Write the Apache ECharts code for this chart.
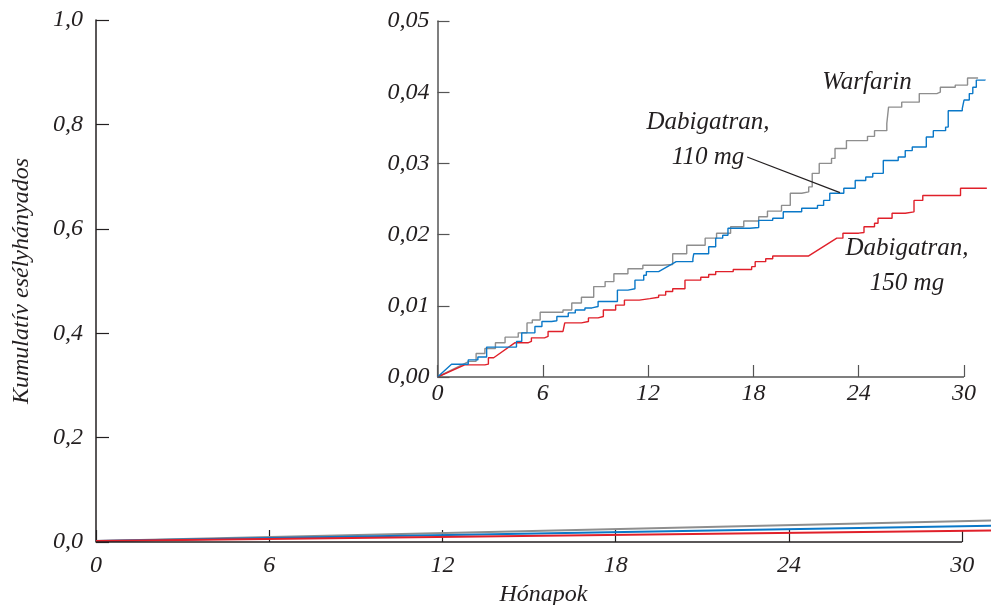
<!DOCTYPE html>
<html>
<head>
<meta charset="utf-8">
<script src="https://cdn.jsdelivr.net/npm/echarts@6/dist/echarts.min.js"></script>
<style>
  html, body { margin: 0; padding: 0; background: #fff; }
  #chart { width: 991px; height: 605px; }
</style>
</head>
<body>
<div id="chart"></div>
<script>
// months, cumulative hazard; 'r' = joined by a straight ramp instead of a step
var warfarin = [[0, 0], [1.8, 0.0022, 'r'], [2.2, 0.0033], [2.7, 0.0040], [3.3, 0.0048], [3.85, 0.0056],
  [4.6, 0.0062], [5.1, 0.0076], [5.4, 0.0080], [5.85, 0.0091], [7.15, 0.0094], [7.65, 0.0104],
  [8.2, 0.0112], [8.9, 0.0127], [9.55, 0.0134], [10.05, 0.0145], [10.85, 0.0152], [11.7, 0.0157],
  [12.8, 0.0158], [13.4, 0.0173], [14.2, 0.0185], [15.25, 0.0195], [15.9, 0.0202], [16.7, 0.0211],
  [17.45, 0.0219], [18.3, 0.0225], [18.8, 0.0233], [19.6, 0.0241], [20.1, 0.0258], [20.75, 0.0260],
  [21.15, 0.0267], [21.35, 0.0286], [21.75, 0.0300], [22.45, 0.0307], [22.65, 0.0321], [23.3, 0.0332],
  [24.5, 0.0338], [24.9, 0.0346], [25.6, 0.0356], [25.7, 0.0379], [26.45, 0.0386], [27.45, 0.0398],
  [28.45, 0.0400], [28.65, 0.0407], [29.5, 0.0410], [30.2, 0.0420], [30.8, 0.0420]]

var dabi110 = [[0, 0], [0.8, 0.0018, 'r'], [1.75, 0.0024], [2.3, 0.0028], [2.8, 0.0042], [4.5, 0.0050],
  [4.8, 0.0062], [5.55, 0.0071], [5.95, 0.0078], [6.5, 0.0079], [6.8, 0.0085], [7.45, 0.0090],
  [7.85, 0.0094], [8.4, 0.0097], [8.8, 0.0099], [9.15, 0.0106], [10.25, 0.0122], [10.85, 0.0124],
  [11.25, 0.0136], [11.75, 0.0143], [11.9, 0.0148], [12.6, 0.0150], [13.6, 0.0162, 'r'], [14.55, 0.0166],
  [14.6, 0.0173], [15.45, 0.0183], [15.85, 0.0195], [16.25, 0.0199], [16.55, 0.0209], [17.8, 0.0210],
  [18.3, 0.0220], [19.1, 0.0223], [19.7, 0.0232], [20.75, 0.0237], [21.65, 0.0241], [22.0, 0.0248],
  [22.35, 0.0258], [23.15, 0.0265], [23.8, 0.0276], [24.4, 0.0281], [24.8, 0.0286], [25.4, 0.0304],
  [26.25, 0.0309], [26.65, 0.0318], [27.05, 0.0323], [27.85, 0.0337], [28.25, 0.0346], [28.95, 0.0351],
  [29.1, 0.0374], [29.9, 0.0377], [30.0, 0.0389], [30.3, 0.0398], [30.5, 0.0407], [30.7, 0.0417],
  [31.2, 0.0418]]

var dabi150 = [[0, 0], [1.55, 0.0017, 'r'], [2.7, 0.0018], [2.9, 0.0027], [3.2, 0.0028], [4.4, 0.0048, 'r'],
  [5.15, 0.0050], [5.35, 0.0055], [6.1, 0.0057], [6.3, 0.0064], [7.15, 0.0065], [7.25, 0.0076],
  [8.2, 0.0078], [8.6, 0.0083], [9.15, 0.0085], [9.45, 0.0094], [10.15, 0.0101], [10.65, 0.0108],
  [11.5, 0.0110], [12.1, 0.0112], [12.6, 0.0115], [13.0, 0.0120], [13.4, 0.0124], [14.1, 0.0136],
  [15.0, 0.0140], [15.45, 0.0144], [15.85, 0.0148], [16.85, 0.0151], [17.9, 0.0155], [18.1, 0.0162],
  [18.7, 0.0166], [19.1, 0.0170], [21.15, 0.0170], [22.75, 0.0195, 'r'], [23.1, 0.0202], [24.0, 0.0203],
  [24.3, 0.0211], [24.9, 0.0216], [25.1, 0.0223], [25.9, 0.0230], [26.65, 0.0232], [27.15, 0.0248],
  [27.65, 0.0255], [29.8, 0.0265], [31.3, 0.0265]]

// big panel, 0-1 scale
var mainWarfarin = [[0, 0.002], [31.0, 0.041]]
var mainDabi110 = [[0, 0.002], [31.0, 0.031]]
var mainDabi150 = [[0, 0.002], [31.0, 0.022]]

var monthTicks = [0, 6, 12, 18, 24, 30]
var leaderLine = [[17.64, 0.0309], [22.93, 0.0259]]

var grey = '#8e8e8e', blue = '#0a78c8', red = '#e0202a'
var font = 'Liberation Serif'

function stairs(ev) {
  var pts = []
  ev.forEach(function (e, i) {
    if (i > 0 && e[2] !== 'r') pts.push([e[0], ev[i - 1][1]])
    pts.push([e[0], e[1]])
  })
  return pts
}

var txt = { fontFamily: font, fontStyle: 'italic', fontSize: 24, color: '#231f20' }

// the x axes run a little past 30 so the curves can, but the axis line stops at 30
function xAx(grid, color, max, margin) {
  return {
    type: 'value', gridIndex: grid, min: 0, max: max,
    axisLine: { show: false },
    axisTick: { show: true, inside: true, length: 12, customValues: monthTicks, lineStyle: { color: color, width: 1.2 } },
    axisLabel: Object.assign({ margin: margin, customValues: monthTicks }, txt),
    splitLine: { show: false }
  }
}

function line(x, y, data, color, w, z) {
  return {
    type: 'line', xAxisIndex: x, yAxisIndex: y, data: data, symbol: 'none', clip: false,
    lineStyle: { color: color, width: w }, silent: true, z: z, animation: false
  }
}

function axisBase(s, color) {
  s.markLine = {
    silent: true, symbol: 'none', animation: false,
    lineStyle: { color: color, width: 1.5, type: 'solid' },
    label: { show: false },
    data: [[{ coord: [monthTicks[0], 0] }, { coord: [monthTicks[monthTicks.length - 1], 0] }]]
  }
  return s
}

var chart = echarts.init(document.getElementById('chart'))

var xMain = xAx(0, '#231f20', 31.0, 12)
xMain.name = 'Hónapok'
xMain.nameLocation = 'middle'
xMain.nameGap = 37
xMain.nameTextStyle = txt

var inset110 = line(1, 1, stairs(dabi110), blue, 1.4, 4)
inset110.markLine = {
  silent: true, symbol: 'none', animation: false,
  lineStyle: { color: '#231f20', width: 1.2, type: 'solid' },
  label: { show: false },
  data: [[{ coord: leaderLine[0] }, { coord: leaderLine[1] }]]
}

var option = {
  animation: false,
  grid: [
    { left: 96, right: 0, top: 20, bottom: 63, outerBoundsMode: 'none' },
    { left: 437.5, right: 2.4, top: 21, bottom: 228, outerBoundsMode: 'none' }
  ],
  xAxis: [xMain, xAx(1, '#555', 31.4, 5)],
  yAxis: [
    {
      type: 'value', gridIndex: 0, min: 0, max: 1, interval: 0.2,
      name: 'Kumulatív esélyhányados', nameLocation: 'middle', nameGap: 62,
      nameTextStyle: txt,
      axisLine: { show: true, lineStyle: { color: '#231f20', width: 1.5 } },
      axisTick: { show: true, inside: true, length: 13, lineStyle: { color: '#231f20', width: 1.2 } },
      axisLabel: Object.assign({ margin: 13, formatter: function (v) { return v.toFixed(1).replace('.', ',') } }, txt),
      splitLine: { show: false }
    },
    {
      type: 'value', gridIndex: 1, min: 0, max: 0.05, interval: 0.01,
      axisLine: { show: true, lineStyle: { color: '#555', width: 1.5 } },
      axisTick: { show: true, inside: true, length: 12, lineStyle: { color: '#555', width: 1.2 } },
      axisLabel: Object.assign({ margin: 8, formatter: function (v) { return v.toFixed(2).replace('.', ',') } }, txt),
      splitLine: { show: false }
    }
  ],
  series: [
    axisBase(line(0, 0, mainWarfarin, grey, 2, 3), '#231f20'),
    line(0, 0, mainDabi110, blue, 2, 3),
    line(0, 0, mainDabi150, red, 2, 3),
    axisBase(line(1, 1, stairs(warfarin), grey, 1.4, 3), '#555'),
    inset110,
    line(1, 1, stairs(dabi150), red, 1.4, 3)
  ],
  graphic: [
    { type: 'text', x: 867, y: 70, style: { text: 'Warfarin', fill: '#231f20', align: 'center', verticalAlign: 'top', font: 'italic 25px "Liberation Serif"' } },
    { type: 'text', x: 708, y: 105, style: { text: 'Dabigatran,\n110 mg', fill: '#231f20', align: 'center', verticalAlign: 'top', font: 'italic 25px "Liberation Serif"', lineHeight: 35 } },
    { type: 'text', x: 907, y: 231, style: { text: 'Dabigatran,\n150 mg', fill: '#231f20', align: 'center', verticalAlign: 'top', font: 'italic 25px "Liberation Serif"', lineHeight: 35 } }
  ]
}

chart.setOption(option)
</script>
</body>
</html>
